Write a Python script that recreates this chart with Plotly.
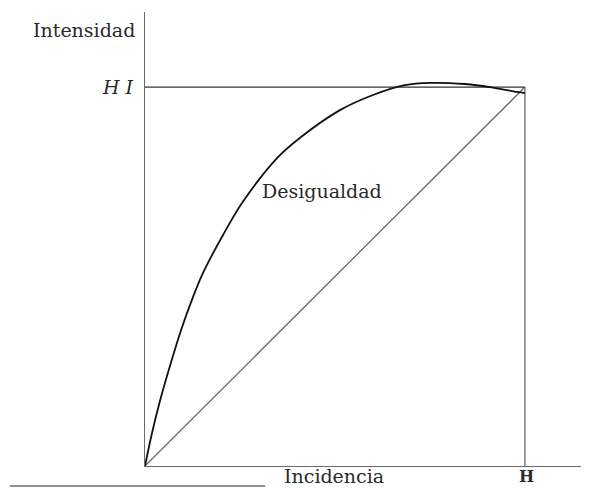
import plotly.graph_objects as go

# Curve "Desigualdad" (x: share of H, y: share of HI)
curve_x = [0.0, 0.018, 0.039, 0.066, 0.095, 0.126, 0.153, 0.205, 0.258,
           0.350, 0.408, 0.513, 0.600, 0.684, 0.750, 0.842, 0.908, 0.979, 1.0]
curve_y = [0.0, 0.085, 0.170, 0.265, 0.359, 0.445, 0.510, 0.609, 0.698,
           0.815, 0.866, 0.939, 0.979, 1.005, 1.011, 1.008, 1.000, 0.987, 0.984]

# Diagonal, top line (HI) and right edge (H)
diag_x = [0, 1]
diag_y = [0, 1]
top_x = [0, 1]
top_y = [1, 1]
edge_x = [1, 1]
edge_y = [0, 1]

serif = "DejaVu Serif"
gray = "#6a6a6a"
txt = "#2a2a2a"

fig = go.Figure()
fig.add_trace(go.Scatter(x=diag_x, y=diag_y, mode="lines",
                         line=dict(color=gray, width=1.3), hoverinfo="skip"))
fig.add_trace(go.Scatter(x=top_x, y=top_y, mode="lines",
                         line=dict(color="#333333", width=1.2), hoverinfo="skip"))
fig.add_trace(go.Scatter(x=edge_x, y=edge_y, mode="lines",
                         line=dict(color=gray, width=1.3), hoverinfo="skip"))
fig.add_trace(go.Scatter(x=curve_x, y=curve_y, mode="lines",
                         line=dict(color="#111111", width=1.8, shape="spline", smoothing=1.0),
                         hoverinfo="skip"))

font = dict(family=serif, size=19, color=txt)
paper = dict(showarrow=False, xref="paper", yref="paper", font=font)
fig.add_annotation(x=-0.018, y=0.960, text="Intensidad", xanchor="right", yanchor="middle", **paper)
fig.add_annotation(x=-0.02, y=0.835, text="<i>H I</i>", xanchor="right", yanchor="middle", **paper)
fig.add_annotation(x=0.311, y=-0.022, text="Incidencia", xanchor="left", yanchor="middle", **paper)
fig.add_annotation(x=0.868, y=-0.024, text="<b>H</b>", xanchor="center", yanchor="middle",
                   showarrow=False, xref="paper", yref="paper",
                   font=dict(family=serif, size=16, color=txt))
fig.add_annotation(x=0.303, y=0.726, text="Desigualdad", xanchor="left", yanchor="middle",
                   showarrow=False, xref="x", yref="y", font=font)

# stray rule under the figure
fig.add_shape(type="line", xref="paper", yref="paper",
              x0=-0.307, x1=0.273, y0=-0.044, y1=-0.044,
              line=dict(color=gray, width=1.3))

fig.update_layout(
    width=581, height=480,
    margin=dict(l=137, r=4, t=4, b=22),
    paper_bgcolor="white", plot_bgcolor="white",
    showlegend=False,
    xaxis=dict(range=[0, 1.158], showgrid=False, zeroline=False, showticklabels=False,
               ticks="", showline=True, linecolor=gray, linewidth=1.3),
    yaxis=dict(range=[0, 1.198], showgrid=False, zeroline=False, showticklabels=False,
               ticks="", showline=True, linecolor=gray, linewidth=1.3),
)

fig.write_html("out.html")
